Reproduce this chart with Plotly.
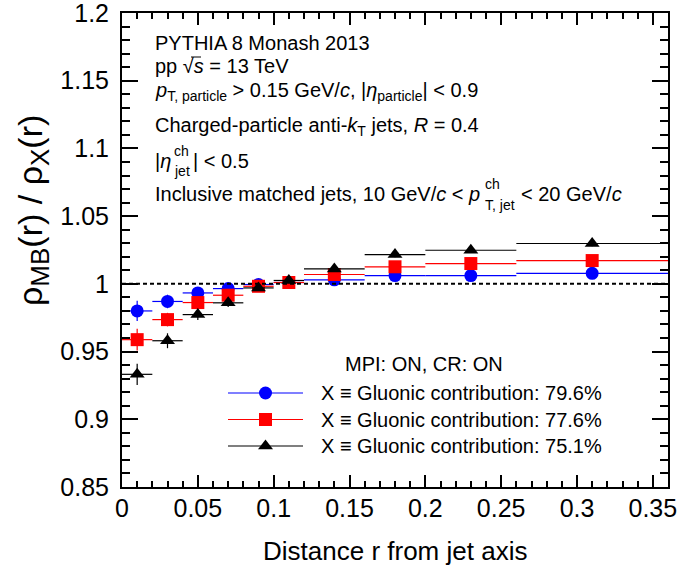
import plotly.graph_objects as go

# ---------------- data ----------------
r_centers = [0.01, 0.03, 0.05, 0.07, 0.09, 0.11, 0.14, 0.18, 0.23, 0.31]
r_halfwidth = [0.01, 0.01, 0.01, 0.01, 0.01, 0.01, 0.02, 0.02, 0.03, 0.05]

ratio_796 = [0.980, 0.987, 0.9933, 0.9965, 0.9995, 1.001, 1.003, 1.0061, 1.0061, 1.0078]
err_796 = [0.0075, 0.005, 0.003, 0.003, 0.002, 0.002, 0.002, 0.002, 0.002, 0.002]

ratio_776 = [0.9588, 0.9736, 0.9862, 0.9916, 0.9982, 1.001, 1.0069, 1.0126, 1.015, 1.0172]
err_776 = [0.008, 0.005, 0.004, 0.003, 0.002, 0.002, 0.002, 0.002, 0.002, 0.002]

ratio_751 = [0.9332, 0.9580, 0.9773, 0.9860, 0.9970, 1.0025, 1.0110, 1.0216, 1.0248, 1.0298]
err_751 = [0.0078, 0.0055, 0.004, 0.003, 0.002, 0.002, 0.002, 0.002, 0.002, 0.002]

series_names = ["X \u2261 Gluonic contribution: 79.6%",
                "X \u2261 Gluonic contribution: 77.6%",
                "X \u2261 Gluonic contribution: 75.1%"]

x_tickvals = [0, 0.05, 0.1, 0.15, 0.2, 0.25, 0.3, 0.35]
x_ticktext = ["0", "0.05", "0.1", "0.15", "0.2", "0.25", "0.3", "0.35"]
y_tickvals = [0.85, 0.9, 0.95, 1.0, 1.05, 1.1, 1.15, 1.2]
y_ticktext = ["0.85", "0.9", "0.95", "1", "1.05", "1.1", "1.15", "1.2"]
reference_ratio = 1.0

# ---------------- figure ----------------
W, H = 678, 569
ML, MR, MT, MB = 122, 10, 13, 82
PW, PH = W - ML - MR, H - MT - MB
FONT = "Liberation Sans, Arial, Helvetica, sans-serif"

def px(xp):
    return (xp - ML) / PW

def py(yp):
    return (H - MB - yp) / PH

styles = [
    dict(color="#0000ff", symbol="circle", size=13),
    dict(color="#ff0000", symbol="square", size=13),
    dict(color="#000000", symbol="triangle-up", size=13),
]
values = [ratio_796, ratio_776, ratio_751]
errors = [err_796, err_776, err_751]

fig = go.Figure()
for vals, errs, st, name in zip(values, errors, styles, series_names):
    fig.add_trace(go.Scatter(
        x=r_centers, y=vals, mode="markers", name=name, showlegend=False,
        marker=dict(color=st["color"], symbol=st["symbol"], size=st["size"], line=dict(width=0)),
        error_x=dict(type="data", array=r_halfwidth, symmetric=True, color=st["color"], thickness=1.2, width=0),
        error_y=dict(type="data", array=errs, symmetric=True, color=st["color"], thickness=1.2, width=0),
        cliponaxis=True,
    ))

# manual legend (ROOT style, long line through marker)
leg_y = [393, 419.5, 446]
for st, ly in zip(styles, leg_y):
    fig.add_shape(type="line", xref="paper", yref="paper",
                  x0=px(228), x1=px(303), y0=py(ly), y1=py(ly),
                  line=dict(color=st["color"], width=1.2))
    fig.add_trace(go.Scatter(
        x=[px(265.5)], y=[py(ly)], xaxis="x2", yaxis="y2", mode="markers",
        showlegend=False, hoverinfo="skip",
        marker=dict(color=st["color"], symbol=st["symbol"], size=st["size"], line=dict(width=0)),
    ))

annotations = []

def ann(text, x, y, size=20, xanchor="left", **kw):
    annotations.append(dict(text=text, x=px(x), y=py(y), xref="paper", yref="paper",
                            xanchor=xanchor, yanchor="middle", showarrow=False,
                            font=dict(family=FONT, size=size, color="black"), **kw))

for name, ly in zip(series_names, leg_y):
    ann(name, 319, ly, size=20)
ann("MPI: ON, CR: ON", 343, 364, size=20)

# header text block
ann("PYTHIA 8 Monash 2013", 153, 43)
ann("pp \u221A<i>s</i> = 13 TeV", 153, 66)
ann("<i>p</i><sub>T, particle</sub> > 0.15 GeV/<i>c</i>, |<i>\u03B7</i><sub>particle</sub>| < 0.9", 153, 91)
ann("Charged-particle anti-<i>k</i><sub>T</sub> jets, <i>R</i> = 0.4", 153, 127)
ann("|<i>\u03B7</i>", 153, 161)
ann("ch", 172, 151, size=14)
ann("jet", 172, 171, size=14)
ann("| < 0.5", 191, 161)
ann("Inclusive matched jets, 10 GeV/<i>c</i> < <i>p</i>", 153, 194)
ann("ch", 483, 184, size=14)
ann("T, jet", 483, 205, size=14)
ann("< 20 GeV/<i>c</i>", 519, 194)

# axis titles
ann("\u03C1<sub><span style='font-size:26px'>MB</span></sub>(r) / \u03C1<sub><span style='font-size:26px'>X</span></sub>(r)",
    33, 211, size=34, xanchor="center", textangle=-90)
ann("Distance r from jet axis", 395, 551, size=26, xanchor="center")

# overline of the square root
fig.add_shape(type="line", xref="paper", yref="paper",
              x0=px(191), x1=px(201), y0=py(57), y1=py(57),
              line=dict(color="black", width=1))

fig.add_shape(type="line", xref="x", yref="y", x0=0, x1=0.36,
              y0=reference_ratio, y1=reference_ratio,
              line=dict(color="black", width=2, dash="4px,3px"))

axis_common = dict(showgrid=False, zeroline=False, showline=True, linecolor="black",
                   linewidth=2, mirror="allticks", ticks="inside", tickcolor="black",
                   tickwidth=1.5, ticklabeloverflow="allow", automargin=False,
                   tickfont=dict(family=FONT, size=25, color="black"))

fig.update_layout(
    width=W, height=H,
    margin=dict(l=ML, r=MR, t=MT, b=MB, pad=0, autoexpand=False),
    paper_bgcolor="white", plot_bgcolor="white",
    font=dict(family=FONT, color="black"),
    showlegend=False,
    xaxis=dict(range=[-0.0000001, 0.36], tickvals=x_tickvals, ticktext=x_ticktext, ticklen=12,
               minor=dict(dtick=0.01, tick0=0, ticklen=6, ticks="inside", tickcolor="black", tickwidth=1.5),
               ticklabelstandoff=-2, **axis_common),
    yaxis=dict(range=[0.8499999, 1.2000001], tickvals=y_tickvals, ticktext=y_ticktext, ticklen=16,
               minor=dict(dtick=0.01, tick0=0.85, ticklen=8, ticks="inside", tickcolor="black", tickwidth=1.5),
               ticklabelstandoff=6, **axis_common),
    xaxis2=dict(range=[0, 1], overlaying="x", visible=False, fixedrange=True),
    yaxis2=dict(range=[0, 1], overlaying="y", visible=False, fixedrange=True),
    annotations=annotations,
)

fig.write_html("out.html", config={"displayModeBar": False},
               post_script="document.body.style.margin='0';document.body.style.padding='0';")
